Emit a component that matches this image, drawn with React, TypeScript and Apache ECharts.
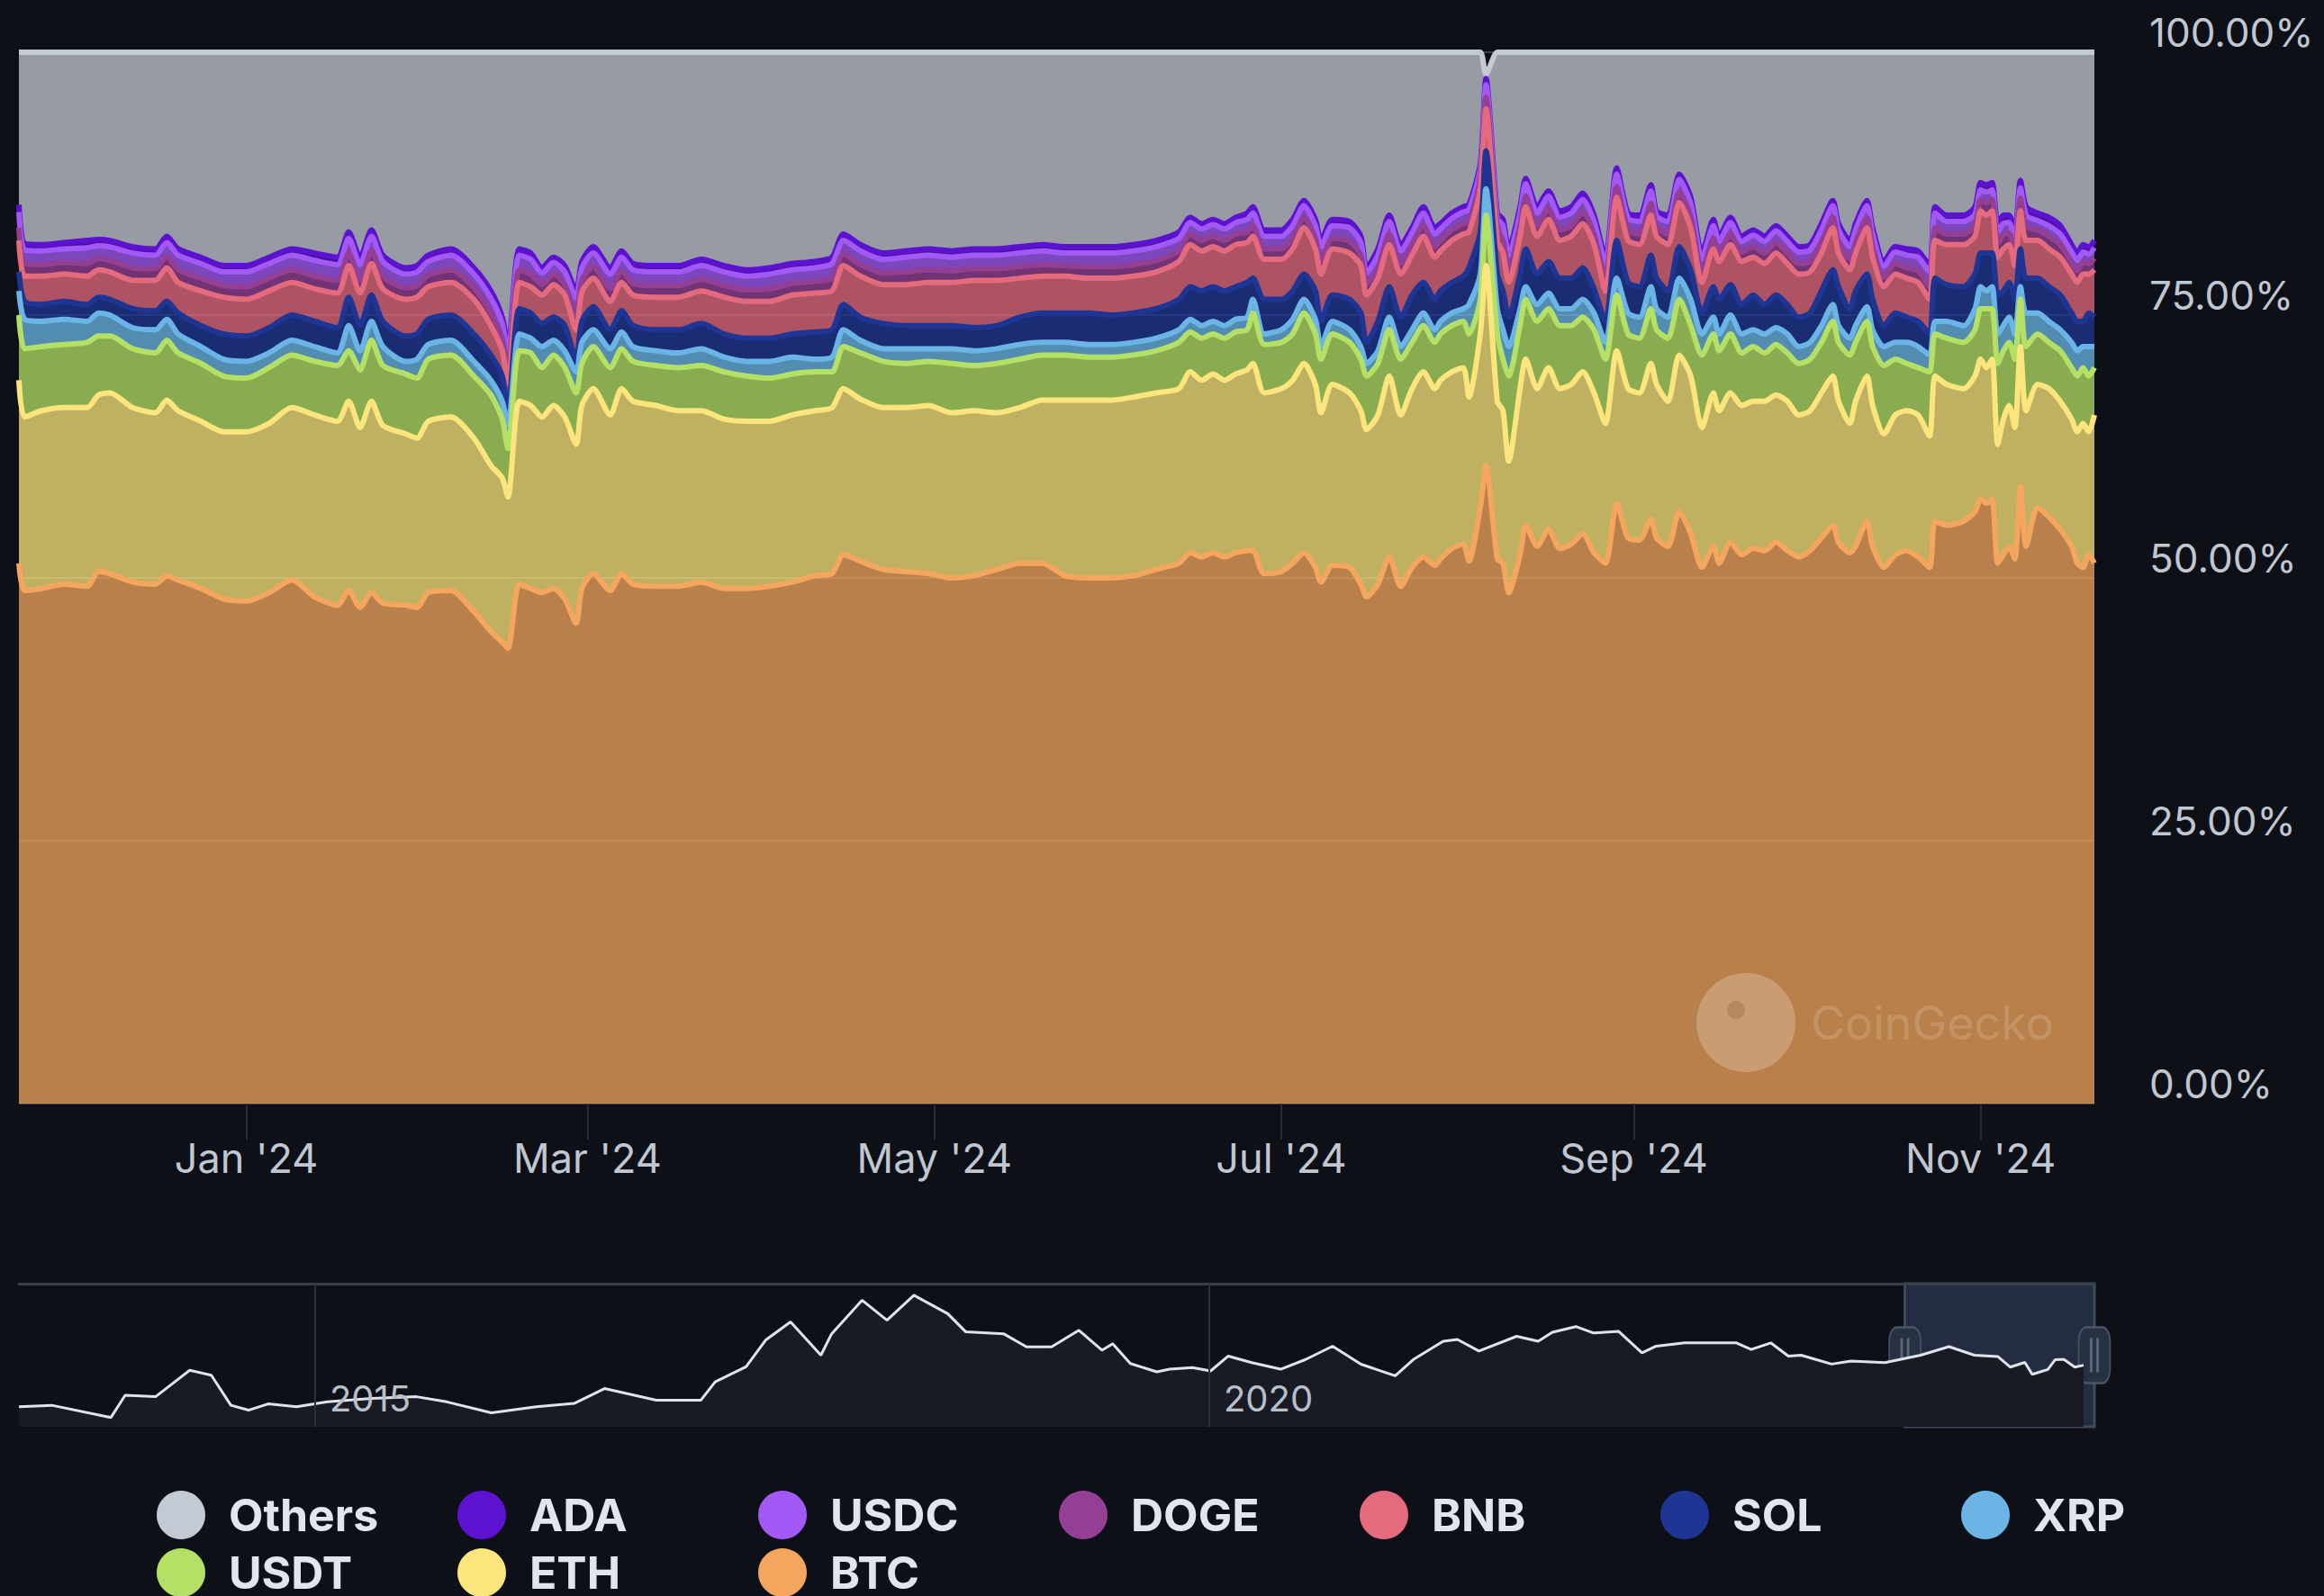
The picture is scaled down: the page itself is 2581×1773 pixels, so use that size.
import React, { useEffect, useRef } from 'react';
import * as echarts from 'echarts';

const dates = [
  '2023-11-22','2023-11-23','2023-11-26','2023-11-30','2023-12-04','2023-12-06','2023-12-08','2023-12-12','2023-12-16','2023-12-18',
  '2023-12-20','2023-12-24','2023-12-28','2024-01-01','2024-01-05','2024-01-09','2024-01-13','2024-01-17','2024-01-19','2024-01-21',
  '2024-01-23','2024-01-25','2024-01-29','2024-01-31','2024-02-02','2024-02-06','2024-02-10','2024-02-13','2024-02-15','2024-02-16',
  '2024-02-18','2024-02-20','2024-02-22','2024-02-24','2024-02-26','2024-02-28','2024-02-29','2024-03-02','2024-03-05','2024-03-07',
  '2024-03-09','2024-03-13','2024-03-17','2024-03-21','2024-03-25','2024-03-29','2024-04-02','2024-04-06','2024-04-10','2024-04-13',
  '2024-04-15','2024-04-18','2024-04-22','2024-04-26','2024-04-30','2024-05-04','2024-05-08','2024-05-12','2024-05-16','2024-05-20',
  '2024-05-24','2024-05-28','2024-06-01','2024-06-05','2024-06-09','2024-06-13','2024-06-15','2024-06-17','2024-06-19','2024-06-21',
  '2024-06-23','2024-06-25','2024-06-26','2024-06-28','2024-07-01','2024-07-03','2024-07-05','2024-07-07','2024-07-08','2024-07-10',
  '2024-07-13','2024-07-15','2024-07-16','2024-07-18','2024-07-20','2024-07-22','2024-07-24','2024-07-26','2024-07-28','2024-07-29',
  '2024-07-31','2024-08-02','2024-08-03','2024-08-05','2024-08-06','2024-08-08','2024-08-09','2024-08-10','2024-08-12','2024-08-13',
  '2024-08-15','2024-08-17','2024-08-19','2024-08-21','2024-08-23','2024-08-25','2024-08-27','2024-08-29','2024-08-31','2024-09-02',
  '2024-09-04','2024-09-05','2024-09-07','2024-09-09','2024-09-11','2024-09-13','2024-09-15','2024-09-16','2024-09-18','2024-09-20',
  '2024-09-22','2024-09-24','2024-09-26','2024-09-28','2024-09-30','2024-10-02','2024-10-04','2024-10-06','2024-10-07','2024-10-09',
  '2024-10-10','2024-10-12','2024-10-13','2024-10-15','2024-10-17','2024-10-19','2024-10-21','2024-10-23','2024-10-24','2024-10-26',
  '2024-10-29','2024-10-31','2024-11-01','2024-11-02','2024-11-03','2024-11-04','2024-11-05','2024-11-06','2024-11-07','2024-11-08',
  '2024-11-09','2024-11-11','2024-11-13','2024-11-15','2024-11-17','2024-11-18','2024-11-19','2024-11-20','2024-11-21'
];

const btc = [
  51.4,48.8,49.0,49.4,49.2,50.6,50.4,49.6,49.4,50.2,
  49.8,49.0,48.0,47.8,48.6,49.8,48.2,47.4,48.8,47.2,
  48.6,47.6,47.4,47.2,48.6,48.8,46.8,44.9,43.9,43.3,
  49.4,49.0,48.6,49.0,48.0,45.7,49.0,50.4,48.8,50.4,
  49.4,49.2,49.2,49.6,49.0,49.0,49.2,49.6,50.2,50.4,
  52.2,51.6,50.8,50.6,50.4,50.0,50.2,50.8,51.4,51.4,
  50.2,50.0,50.0,50.2,50.8,51.4,52.4,52.0,52.4,52.0,
  52.4,52.6,52.6,50.4,50.6,51.4,52.4,51.0,49.6,51.2,
  51.0,49.4,48.2,49.4,52.0,49.2,51.0,52.0,51.2,51.8,
  52.8,53.2,51.6,56.7,60.7,51.8,51.4,48.6,52.2,55.0,
  53.0,54.6,52.8,53.2,54.2,52.4,51.4,57.1,53.8,53.6,
  55.6,53.8,53.0,56.3,54.2,51.0,53.0,51.4,53.4,52.2,
  52.8,52.6,53.4,52.6,52.0,52.6,53.8,55.0,53.4,52.4,
  53.0,55.4,53.0,51.0,52.2,52.6,52.0,51.0,55.4,55.0,
  55.4,56.3,57.5,57.1,57.5,51.4,52.2,53.0,51.8,58.7,
  53.0,56.7,55.8,54.6,53.0,51.4,51.0,52.2,51.4
];
const eth = [
  17.4,16.5,16.9,16.8,17.0,16.8,17.2,16.6,16.3,16.7,
  16.1,15.9,15.9,16.1,16.1,16.4,17.3,17.5,18.0,17.1,
  18.2,16.9,16.3,16.1,16.3,16.5,16.5,15.8,15.6,14.4,
  17.4,17.4,16.7,17.4,17.3,17.0,17.4,17.6,16.7,17.6,
  17.4,17.2,16.7,16.3,16.1,15.9,15.7,15.9,15.7,15.8,
  15.8,15.4,15.4,15.6,16.0,15.7,15.7,14.9,14.8,15.5,
  16.7,16.9,16.9,17.0,16.8,16.6,17.2,16.8,17.0,16.8,
  17.0,17.2,17.8,17.2,17.4,17.4,18.0,17.4,16.1,17.2,
  16.6,16.5,15.9,16.1,17.2,16.3,17.0,17.6,16.8,17.0,
  16.8,16.8,15.6,16.5,19.0,15.0,14.5,12.5,15.8,15.8,
  15.0,15.4,15.2,15.2,15.4,15.2,13.3,14.5,14.2,14.0,
  14.8,14.6,13.8,14.9,15.0,13.3,14.6,14.5,14.2,14.2,
  14.0,14.2,14.0,14.2,13.5,13.3,13.8,14.2,13.4,12.3,
  13.8,13.8,13.4,12.7,13.3,13.3,13.5,12.5,13.8,13.4,
  12.6,12.9,13.3,12.9,13.3,11.3,12.9,13.4,12.5,13.3,
  12.9,11.7,12.2,12.2,12.1,12.5,13.7,11.7,14.1
];
const usdt = [
  6.2,6.5,6.1,6.0,6.2,5.6,5.4,5.6,5.7,5.7,
  5.5,5.5,5.3,5.1,5.3,5.0,5.1,5.3,4.8,5.5,
  5.8,5.7,5.7,5.7,5.9,5.9,5.9,6.7,5.6,4.6,
  4.8,5.0,4.7,4.8,4.7,4.9,4.0,4.0,4.5,3.8,
  3.8,3.8,4.1,4.3,4.5,4.3,4.1,3.9,3.7,3.4,
  4.0,4.4,4.4,4.2,4.2,4.7,4.3,4.7,4.6,4.3,
  4.3,4.1,4.1,4.0,4.0,4.4,3.8,4.0,3.8,4.0,
  4.0,3.8,4.8,4.6,4.4,4.4,4.8,4.8,5.1,4.8,
  4.8,4.9,5.1,4.9,4.4,5.3,4.4,4.4,4.4,4.4,
  4.4,4.4,6.0,3.3,4.8,6.4,4.9,8.1,6.0,5.7,
  6.4,5.6,6.0,5.6,5.2,6.0,6.1,5.3,5.2,5.2,
  5.2,5.2,6.0,5.3,4.8,6.9,5.6,5.7,5.6,5.0,
  5.2,4.6,4.8,4.6,4.9,4.9,4.8,5.2,5.6,6.5,
  5.6,5.2,5.6,6.5,5.3,4.5,4.5,6.1,4.0,4.4,
  4.4,4.4,4.8,5.6,4.8,7.7,6.5,6.0,6.5,4.5,
  6.1,4.8,4.4,4.8,4.9,5.3,5.3,5.3,4.5
];
const xrp = [
  2.3,2.8,2.4,2.4,2.0,2.2,2.0,2.0,2.2,2.0,
  1.8,1.6,1.6,1.6,1.4,1.4,1.4,1.2,2.4,1.8,
  1.8,1.8,1.2,1.8,1.4,1.4,1.4,1.4,1.7,2.2,
  1.6,1.4,2.0,1.4,1.6,2.0,2.0,1.6,1.8,1.6,
  1.4,1.4,1.4,1.6,1.4,1.4,1.6,1.6,1.2,1.4,
  1.6,1.2,1.2,1.4,1.2,1.4,1.4,1.4,1.4,1.2,
  1.2,1.2,1.2,1.2,1.2,1.2,1.2,1.2,1.2,1.2,
  1.2,1.2,1.3,1.0,1.2,1.4,1.3,1.4,1.2,1.2,
  1.2,1.2,1.2,1.2,1.2,1.2,1.2,1.2,1.2,1.2,
  1.2,1.2,2.8,2.4,2.5,2.4,2.8,2.8,1.6,1.2,
  1.6,1.5,1.6,1.6,1.7,1.6,1.6,1.6,2.0,2.0,
  2.1,2.0,2.0,2.0,2.5,2.0,1.6,1.6,1.8,1.8,
  1.6,1.8,1.6,1.8,1.6,1.6,1.6,1.6,1.6,1.6,
  1.6,1.4,1.6,1.8,1.6,2.0,2.0,1.6,1.2,1.6,
  1.6,2.0,2.1,1.7,2.1,2.8,2.4,2.4,2.4,1.2,
  3.2,2.0,2.0,2.0,2.4,2.4,2.0,2.8,2.0
];
const sol = [
  1.8,1.7,1.6,1.7,1.6,1.5,1.5,1.8,1.8,1.7,
  2.0,2.0,2.4,2.4,2.4,2.4,2.4,2.4,2.7,2.4,
  2.5,2.4,2.4,2.4,2.4,2.4,2.6,2.4,2.4,1.5,
  2.4,2.4,2.2,2.2,2.4,1.2,2.0,2.2,1.8,2.0,
  2.0,2.0,2.2,2.4,2.2,2.2,2.2,2.2,2.6,2.6,
  2.4,2.2,2.4,2.2,2.2,2.2,2.2,2.2,2.6,2.8,
  2.8,3.0,2.8,2.8,2.8,2.9,3.1,3.3,3.3,3.3,
  3.1,3.3,2.0,3.3,2.9,2.7,2.4,2.7,2.4,2.5,
  2.9,3.2,2.0,2.8,2.9,2.8,3.3,2.9,2.9,2.9,
  2.9,3.1,3.5,4.0,3.6,3.3,3.7,2.8,3.3,3.6,
  2.9,3.0,2.9,2.9,3.0,2.3,2.0,3.6,2.9,2.9,
  3.0,2.9,2.5,3.0,2.8,2.0,2.9,3.3,2.9,2.8,
  3.3,2.8,3.1,2.8,2.8,2.8,3.3,3.3,3.7,2.8,
  3.3,3.1,2.9,2.0,2.8,2.4,2.4,2.0,4.1,3.5,
  3.7,3.3,3.2,3.6,3.2,3.7,3.3,3.3,3.3,3.6,
  3.3,3.3,3.3,3.3,2.8,2.8,2.4,3.2,2.8
];
const bnb = [
  3.0,2.4,2.7,2.6,2.7,2.6,2.6,2.7,2.9,3.2,
  2.9,3.3,3.5,3.5,3.5,3.1,3.1,3.3,3.0,3.1,
  3.0,3.1,3.5,3.5,3.1,3.1,3.3,2.8,2.4,2.5,
  2.5,2.5,2.7,3.1,2.9,2.8,2.8,2.7,2.7,2.7,
  2.9,3.1,3.1,3.1,3.5,3.5,3.5,3.7,3.7,3.7,
  3.7,3.9,3.7,3.9,4.1,4.1,4.5,4.3,3.7,3.5,
  3.5,3.3,3.5,3.5,3.5,3.6,4.0,3.8,3.8,3.8,
  4.0,3.8,4.0,3.8,3.8,4.0,4.4,4.0,4.5,4.4,
  4.4,4.5,4.5,4.1,4.0,4.1,3.8,4.4,4.0,3.8,
  4.0,4.0,3.4,4.1,4.0,3.2,3.6,3.3,3.6,4.0,
  3.6,4.0,3.6,4.0,4.2,4.2,2.9,4.1,4.0,4.0,
  3.8,4.0,4.4,4.2,4.0,2.9,3.6,3.6,3.8,4.1,
  3.6,3.9,4.0,3.9,4.1,3.9,3.6,4.0,3.2,3.7,
  3.6,4.4,4.0,3.7,3.7,3.7,3.7,3.3,3.6,3.8,
  4.0,3.6,4.0,3.6,4.0,3.6,4.0,3.6,3.2,3.6,
  3.6,3.6,3.6,3.6,3.7,3.7,4.5,3.7,4.5
];
const doge = [
  1.2,1.2,1.1,1.1,1.2,1.1,1.1,1.2,1.1,1.1,
  1.2,1.2,1.1,1.2,1.2,1.2,1.2,1.2,1.2,1.2,
  1.2,1.2,1.1,1.1,1.1,1.2,1.1,1.2,1.2,1.3,
  1.2,1.2,1.0,1.0,1.0,1.4,1.1,1.1,1.2,1.1,
  1.1,1.1,1.1,1.1,1.1,1.1,1.2,1.1,1.1,1.2,
  1.1,1.1,1.1,1.2,1.2,1.1,1.1,1.1,1.1,1.1,
  1.0,1.1,1.1,1.1,1.1,1.0,1.0,1.0,1.0,1.0,
  1.0,1.0,1.0,1.0,1.0,1.0,1.0,1.0,1.2,1.0,
  1.1,1.0,1.0,1.0,1.0,1.0,1.0,1.0,1.0,1.0,
  1.0,1.0,1.0,0.9,1.1,1.0,1.2,1.2,1.0,1.0,
  1.0,1.0,1.0,1.0,1.1,1.0,1.2,1.0,1.0,1.0,
  1.1,0.9,1.0,1.0,1.1,1.0,1.0,0.9,1.0,0.9,
  1.0,1.0,1.0,1.0,1.0,1.0,1.0,1.0,1.0,1.0,
  1.0,1.0,1.0,0.9,1.0,1.0,1.1,1.2,1.2,1.0,
  1.0,1.1,1.1,1.2,1.1,1.3,1.3,1.1,1.3,1.2,
  1.3,1.0,1.2,1.2,1.1,1.1,1.1,1.0,1.1
];
const usdc = [
  1.5,1.3,1.3,1.3,1.5,1.2,1.3,1.4,1.3,1.3,
  1.4,1.4,1.3,1.4,1.4,1.4,1.5,1.5,1.4,1.5,
  1.4,1.4,1.3,1.3,1.3,1.4,1.3,1.4,1.4,1.5,
  1.4,1.4,1.1,1.1,1.2,1.6,1.2,1.3,1.4,1.3,
  1.3,1.3,1.3,1.3,1.3,1.3,1.4,1.3,1.3,1.4,
  1.3,1.3,1.3,1.4,1.4,1.3,1.3,1.3,1.3,1.3,
  1.2,1.3,1.3,1.3,1.3,1.2,1.1,1.1,1.1,1.1,
  1.1,1.2,1.2,1.2,1.2,1.2,1.1,1.2,1.4,1.2,
  1.3,1.2,1.1,1.2,1.2,1.2,1.1,1.2,1.2,1.1,
  1.1,1.1,1.1,1.0,1.2,1.1,1.4,1.4,1.2,1.2,
  1.2,1.2,1.2,1.2,1.2,1.2,1.4,1.2,1.1,1.2,
  1.2,1.0,1.2,1.2,1.2,1.2,1.2,1.0,1.1,1.0,
  1.1,1.1,1.1,1.1,1.1,1.1,1.2,1.1,1.2,1.2,
  1.2,1.1,1.2,1.0,1.1,1.2,1.3,1.4,1.4,1.2,
  1.2,1.0,0.9,1.0,0.9,1.1,1.1,1.0,1.1,1.0,
  1.1,0.9,1.0,1.0,1.0,1.0,1.0,0.9,1.0
];
const ada = [
  0.7,0.6,0.6,0.6,0.7,0.6,0.6,0.6,0.6,0.6,
  0.6,0.6,0.6,0.6,0.6,0.6,0.7,0.7,0.6,0.7,
  0.6,0.6,0.6,0.6,0.6,0.6,0.6,0.7,0.6,0.7,
  0.6,0.6,0.5,0.5,0.6,0.7,0.6,0.6,0.6,0.6,
  0.6,0.6,0.6,0.6,0.6,0.6,0.6,0.6,0.6,0.6,
  0.6,0.6,0.6,0.6,0.6,0.6,0.6,0.6,0.6,0.6,
  0.6,0.6,0.6,0.6,0.6,0.6,0.5,0.5,0.5,0.5,
  0.5,0.6,0.6,0.6,0.6,0.6,0.5,0.6,0.6,0.6,
  0.6,0.6,0.5,0.6,0.6,0.6,0.5,0.6,0.6,0.5,
  0.5,0.5,0.5,0.5,0.6,0.5,0.6,0.6,0.6,0.5,
  0.6,0.5,0.6,0.6,0.6,0.6,0.6,0.6,0.5,0.6,
  0.6,0.5,0.6,0.5,0.6,0.6,0.6,0.5,0.5,0.5,
  0.5,0.5,0.5,0.5,0.5,0.5,0.6,0.5,0.6,0.6,
  0.6,0.5,0.6,0.5,0.5,0.6,0.6,0.6,0.6,0.6,
  0.6,0.7,0.7,0.7,0.7,0.8,0.8,0.7,0.8,0.7,
  0.8,0.7,0.8,0.8,0.7,0.7,0.7,0.7,0.7
];
const others = [
  14.5,18.2,18.3,18.1,17.9,17.8,17.9,18.5,18.7,17.5,
  18.7,19.5,20.3,20.3,19.5,18.7,19.1,19.5,17.1,19.5,
  16.9,19.3,20.5,20.3,19.3,18.7,20.5,22.7,25.2,28.0,
  18.7,19.1,20.5,19.5,20.3,22.7,19.9,18.5,20.5,18.9,
  20.1,20.3,20.3,19.7,20.3,20.7,20.5,20.1,19.9,19.5,
  17.3,18.3,19.1,18.9,18.7,18.9,18.7,18.7,18.5,18.3,
  18.5,18.5,18.5,18.3,17.9,17.1,15.7,16.3,15.9,16.3,
  15.7,15.3,14.7,16.9,16.9,15.9,14.1,15.9,17.9,15.9,
  16.1,17.5,20.5,18.7,15.5,18.3,16.7,14.7,16.7,16.3,
  15.3,14.7,14.5,10.6,0.4,15.3,15.9,18.7,14.7,12.0,
  14.7,13.2,15.1,14.7,13.4,15.5,19.5,11.0,15.3,15.5,
  12.6,15.1,15.5,11.6,13.8,19.1,15.9,17.5,15.7,17.5,
  16.9,17.5,16.5,17.5,18.5,18.3,16.3,14.1,16.3,17.9,
  16.3,14.1,16.7,19.9,18.5,18.7,18.9,20.3,14.7,15.5,
  15.5,14.7,12.4,12.6,12.4,16.3,15.5,15.5,17.1,12.2,
  14.7,15.3,15.7,16.5,18.3,19.1,18.3,18.5,17.9
];

const navDates = [
  '2013-05-06','2013-07-12','2013-11-10','2013-12-09','2014-02-09','2014-04-20','2014-06-03','2014-07-13','2014-08-18','2014-09-27',
  '2014-11-24','2015-01-26','2015-04-27','2015-07-27','2015-09-27','2015-12-27','2016-03-28','2016-06-13','2016-08-14','2016-11-28',
  '2017-02-27','2017-03-28','2017-05-30','2017-07-09','2017-08-29','2017-10-30','2017-11-21','2018-01-22','2018-03-14','2018-05-08',
  '2018-07-16','2018-08-22','2018-11-07','2018-12-24','2019-02-13','2019-04-10','2019-05-27','2019-06-18','2019-07-24','2019-09-16',
  '2019-10-12','2019-11-28','2020-01-04','2020-02-09','2020-03-28','2020-05-26','2020-07-16','2020-09-09','2020-11-06','2021-01-15',
  '2021-02-21','2021-04-23','2021-05-22','2021-07-05','2021-09-20','2021-11-03','2021-12-02','2022-01-19','2022-02-24','2022-04-16',
  '2022-06-03','2022-07-02','2022-08-29','2022-12-13','2023-01-12','2023-02-21','2023-03-29','2023-04-24','2023-06-25','2023-08-04',
  '2023-10-12','2023-12-24','2024-02-20','2024-04-12','2024-05-30','2024-06-24','2024-07-24','2024-08-08','2024-09-09','2024-09-24',
  '2024-10-12','2024-11-03','2024-11-21'
];
const navValues = [
  14,15,6.5,22,21,39.5,36,15,11.6,16,
  14,17.4,19.8,21,17.4,9.8,14,16.3,26.7,18.6,
  18.6,31.4,41.9,60.5,73.3,50,65,88.4,74.4,91.9,
  79,66.3,65,55.8,55.8,67.4,53.5,58,44.2,38.4,
  40.2,41.4,39,49.4,44.8,40.2,47,56.3,43.7,35.6,
  47,59.8,61,52.9,63.2,59.8,66,70,65.5,66.7,
  51.7,56.3,58.6,58.6,54,58.6,49.4,50,43.8,45.9,
  44.8,50,56,50,49,41.7,45,36.6,40,46.9,
  47,41.7,43
];
const navRangeEnd = '2024-12-13';

const monthTickDates = ['2024-01-01','2024-03-01','2024-05-01','2024-07-01','2024-09-01','2024-11-01'];
const yearTickDates = ['2015-01-01','2020-01-01'];
const monthNames = ['Jan','Feb','Mar','Apr','May','Jun','Jul','Aug','Sep','Oct','Nov','Dec'];
const legendOrder = ['Others','ADA','USDC','DOGE','BNB','SOL','XRP','USDT','ETH','BTC'];

const coins = [
  { name: 'BTC', data: btc, color: '#f4a65e' },
  { name: 'ETH', data: eth, color: '#fbe57c' },
  { name: 'USDT', data: usdt, color: '#b4e066' },
  { name: 'XRP', data: xrp, color: '#6bb5e6' },
  { name: 'SOL', data: sol, color: '#1f3594' },
  { name: 'BNB', data: bnb, color: '#e46a7d' },
  { name: 'DOGE', data: doge, color: '#933f94' },
  { name: 'USDC', data: usdc, color: '#a259f5' },
  { name: 'ADA', data: ada, color: '#5d12cf' },
  { name: 'Others', data: others, color: '#c4cad4' },
];

function ts(s: string): number {
  const [y, m, d] = s.split('-').map(Number);
  return new Date(y, m - 1, d).getTime();
}

const FONT = "Inter, 'Noto Sans', sans-serif";

export default function App() {
  const ref = useRef<HTMLDivElement>(null);
  useEffect(() => {
    document.body.style.margin = '0';
    document.body.style.background = '#0d1017';
    if (!ref.current) return;
    const chart = echarts.init(ref.current, null, { renderer: 'svg' });
    const first = ts(dates[0]);
    const last = ts(dates[dates.length - 1]);
    const navFirst = ts(navDates[0]);
    const navLast = ts(navRangeEnd);
    const monthTicks = monthTickDates.map(ts);
    const yearTicks = yearTickDates.map(ts);

    const mainSeries = coins.map((c, i) => ({
      name: c.name,
      type: 'line',
      stack: 'total',
      xAxisIndex: 0,
      yAxisIndex: 0,
      data: dates.map((d, j) => [d, c.data[j]]),
      symbol: 'none',
      smooth: 0.25,
      z: 30 - i,
      lineStyle: { width: 6, color: c.color },
      itemStyle: { color: c.color },
      areaStyle: { color: c.color, opacity: 0.75 },
      emphasis: { disabled: true },
      silent: true,
    }));

    const handleStyle = { color: '#283142', borderColor: '#4b5567', borderWidth: 2 };
    const gripStyle = { color: '#5a667b' };

    const option: any = {
      animation: false,
      backgroundColor: '#0d1017',
      grid: [
        { left: 21, top: 58, width: 2305, height: 1168, outerBoundsMode: 'none' },
        { left: 21, top: 1426, width: 2305, height: 159, outerBoundsMode: 'none' },
      ],
      xAxis: [
        {
          type: 'time',
          gridIndex: 0,
          position: 'bottom',
          min: first,
          max: last,
          show: false,
        },
        {
          type: 'value',
          gridIndex: 0,
          position: 'bottom',
          min: first,
          max: last,
          axisLine: { show: false },
          axisTick: { show: true, customValues: monthTicks, length: 40, lineStyle: { color: '#272c36', width: 2 } },
          axisLabel: {
            customValues: monthTicks,
            color: '#c0c7d1',
            fontSize: 45,
            fontFamily: FONT,
            margin: 38,
            formatter: (v: number) => {
              const d = new Date(v);
              return `${monthNames[d.getMonth()]} '${String(d.getFullYear()).slice(2)}`;
            },
          },
          splitLine: { show: false },
        },
        {
          type: 'value',
          gridIndex: 1,
          position: 'bottom',
          min: navFirst,
          max: navLast,
          z: 10,
          axisLine: { show: false },
          axisTick: { show: true, inside: true, customValues: yearTicks, length: 159, lineStyle: { color: '#2b303a', width: 2 } },
          axisLabel: {
            customValues: yearTicks,
            inside: true,
            align: 'left',
            padding: [0, 0, 0, 16],
            margin: 12,
            color: '#b8bfc9',
            fontSize: 40,
            fontFamily: FONT,
            formatter: (v: number) => String(new Date(v).getFullYear()),
          },
          splitLine: { show: false },
        },
        {
          type: 'value',
          gridIndex: 1,
          position: 'top',
          min: navFirst,
          max: navLast,
          z: 10,
          axisLine: { show: true, lineStyle: { color: '#3a414e', width: 3 } },
          axisTick: { show: false },
          axisLabel: { show: false },
          splitLine: { show: false },
        },
      ],
      yAxis: [
        {
          type: 'value',
          gridIndex: 0,
          min: 0,
          max: 100,
          interval: 25,
          position: 'right',
          axisLine: { show: false },
          axisTick: { show: false },
          axisLabel: {
            color: '#c0c7d1',
            fontSize: 44,
            fontFamily: FONT,
            margin: 61,
            align: 'left',
            verticalAlign: 'bottom',
            formatter: (v: number) => v.toFixed(2) + '%',
          },
          splitLine: { show: true, lineStyle: { color: '#3b414d', width: 2 } },
        },
        { type: 'value', gridIndex: 1, min: 0, max: 100, show: false },
      ],
      legend: {
        show: true,
        data: legendOrder,
        left: 169,
        top: 1651,
        width: 2340,
        orient: 'horizontal',
        itemWidth: 54,
        itemHeight: 54,
        itemGap: 10,
        icon: 'circle',
        selectedMode: false,
        textStyle: {
          color: '#e1e6ed',
          fontSize: 50,
          fontWeight: 'bold',
          fontFamily: FONT,
          width: 244,
          padding: [0, 0, 0, 21],
          lineHeight: 50,
        },
      },
      graphic: [
        { type: 'circle', shape: { cx: 1939, cy: 1136, r: 55 }, style: { fill: 'rgba(255,255,255,0.22)' }, z: 100, silent: true },
        { type: 'circle', shape: { cx: 1928, cy: 1122, r: 10 }, style: { fill: 'rgba(120,80,40,0.25)' }, z: 101, silent: true },
        {
          type: 'text',
          x: 2011,
          y: 1136,
          z: 100,
          silent: true,
          style: { text: 'CoinGecko', fill: 'rgba(255,255,255,0.15)', font: `52px ${FONT}`, verticalAlign: 'middle' },
        },
      ],
      series: [
        ...mainSeries,
        {
          name: 'navigator',
          type: 'line',
          xAxisIndex: 2,
          yAxisIndex: 1,
          data: navDates.map((d, i) => [ts(d), navValues[i]]),
          symbol: 'none',
          silent: true,
          z: 5,
          lineStyle: { color: '#dfe3ea', width: 3 },
          areaStyle: { color: '#181b23', opacity: 1 },
          emphasis: { disabled: true },
          markArea: {
            silent: true,
            itemStyle: { color: 'rgba(55,68,98,0.55)', borderColor: '#3f4a5c', borderWidth: 3 },
            data: [[{ xAxis: first }, { xAxis: navLast }]],
          },
          markPoint: {
            silent: true,
            label: { show: false },
            data: [
              { coord: [first, 50], symbol: 'roundRect', symbolSize: [35, 62], itemStyle: handleStyle },
              { coord: [navLast, 50], symbol: 'roundRect', symbolSize: [35, 62], itemStyle: handleStyle },
              { coord: [first, 50], symbol: 'path://M0,0H2V10H0Z M5,0H7V10H5Z', symbolSize: [10, 38], itemStyle: gripStyle },
              { coord: [navLast, 50], symbol: 'path://M0,0H2V10H0Z M5,0H7V10H5Z', symbolSize: [10, 38], itemStyle: gripStyle },
            ],
          },
        },
      ],
    };
    chart.setOption(option);
    return () => chart.dispose();
  }, []);

  return (
    <div
      ref={ref}
      style={{ position: 'absolute', left: 0, top: 0, width: 2581, height: 1773, background: '#0d1017' }}
    />
  );
}
